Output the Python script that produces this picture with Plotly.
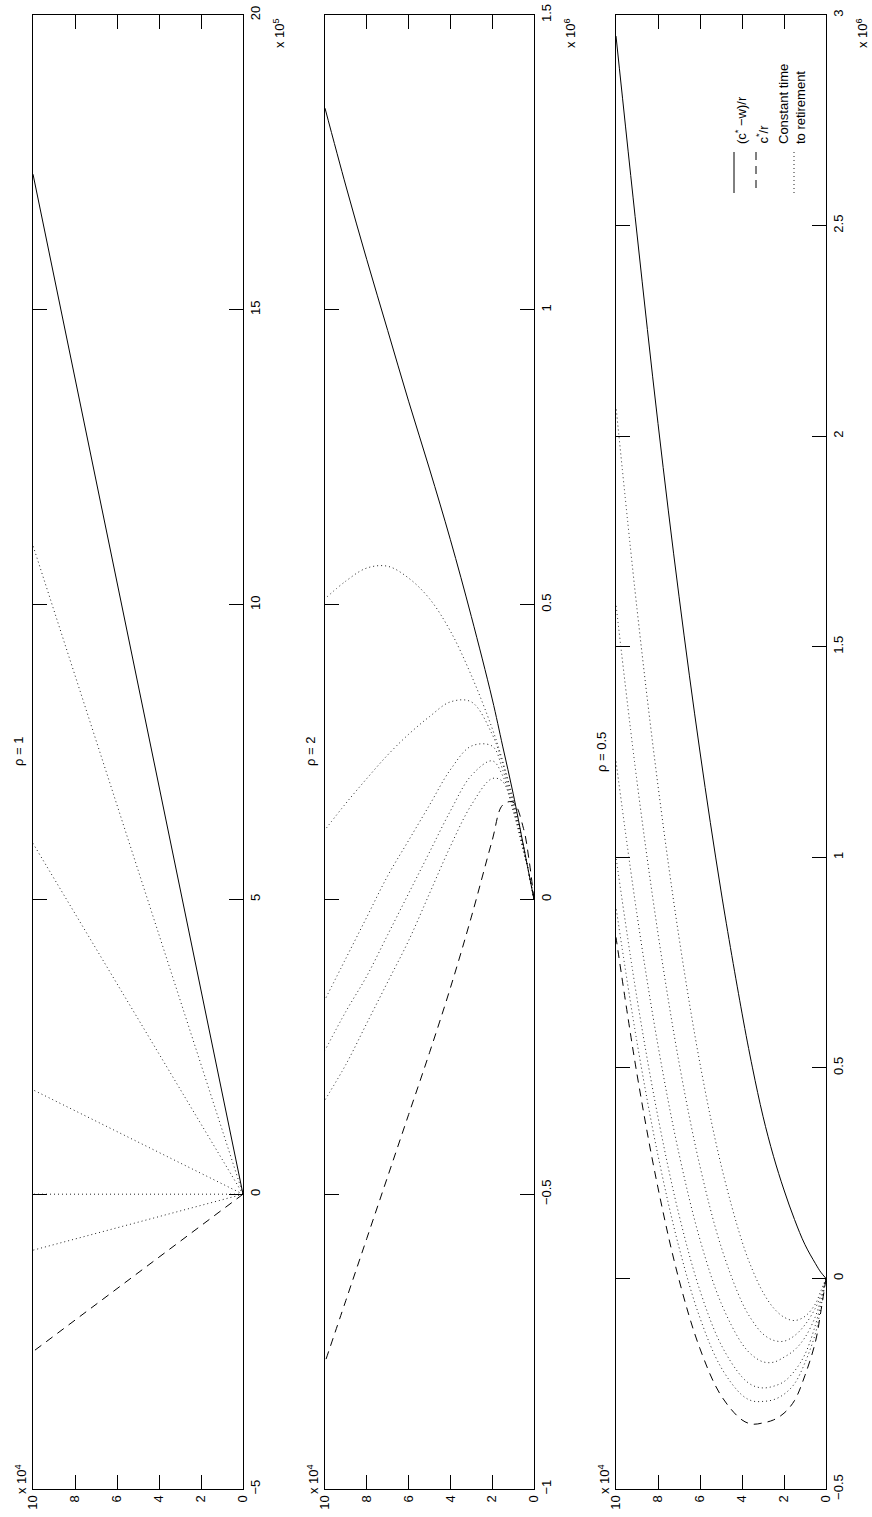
import plotly.graph_objects as go

# ---------------- data (c in units of 1e4; values in axis units) ----------------
# Panel rho = 1 (values x 1e5) -- straight lines through origin
r1_c = [0, 10]
r1_solid = [0, 17.3]
r1_dashed = [0, -2.67]
r1_dotted = [
    [0, -0.95],
    [0, 0.0],
    [0, 1.77],
    [0, 5.95],
    [0, 11.0],
]

# Panel rho = 2 (values x 1e6)
r2_c = [0, 0.25, 0.5, 1, 1.5, 2, 3, 4, 5, 6, 7, 8, 9, 10]
r2_solid = [0, 0.045, 0.09, 0.18, 0.26, 0.34, 0.48, 0.61, 0.73, 0.845, 0.965, 1.085, 1.21, 1.342]
r2_dashed = [0, 0.07, 0.12, 0.165, 0.16, 0.10, -0.03, -0.15, -0.26, -0.365, -0.47, -0.575, -0.68, -0.785]
r2_dotted = [
    [0, 0.045, 0.09, 0.17, 0.235, 0.29, 0.38, 0.455, 0.51, 0.545, 0.565, 0.562, 0.54, 0.51],
    [0, 0.045, 0.09, 0.165, 0.23, 0.28, 0.335, 0.335, 0.31, 0.28, 0.245, 0.205, 0.163, 0.118],
    [0, 0.045, 0.085, 0.16, 0.22, 0.26, 0.26, 0.22, 0.16, 0.10, 0.04, -0.03, -0.10, -0.17],
    [0, 0.045, 0.085, 0.155, 0.21, 0.235, 0.21, 0.15, 0.08, 0.01, -0.06, -0.13, -0.19, -0.256],
    [0, 0.045, 0.08, 0.15, 0.20, 0.205, 0.16, 0.09, 0.01, -0.07, -0.14, -0.21, -0.28, -0.34],
]

# Panel rho = 0.5 (values x 1e6)
r3_c = [0, 0.25, 0.5, 1, 1.5, 2, 2.5, 3, 3.5, 4, 5, 6, 7, 8, 9, 10]
r3_solid = [0, 0.015, 0.035, 0.08, 0.14, 0.21, 0.29, 0.385, 0.50, 0.63, 0.92, 1.25, 1.62, 2.03, 2.48, 2.95]
r3_dashed = [0, -0.08, -0.15, -0.23, -0.29, -0.32, -0.336, -0.343, -0.346, -0.336, -0.278, -0.167,
             -0.003, 0.215, 0.485, 0.81]
r3_dotted = [
    [0, -0.03, -0.06, -0.09, -0.10, -0.092, -0.07, -0.033, 0.02, 0.088, 0.27, 0.51, 0.81, 1.17, 1.59, 2.07],
    [0, -0.04, -0.07, -0.11, -0.136, -0.149, -0.147, -0.132, -0.101, -0.057, 0.076, 0.266, 0.513, 0.819, 1.18, 1.60],
    [0, -0.05, -0.09, -0.14, -0.17, -0.187, -0.199, -0.198, -0.183, -0.155, -0.058, 0.092, 0.296, 0.553, 0.864, 1.228],
    [0, -0.06, -0.11, -0.18, -0.22, -0.245, -0.256, -0.26, -0.254, -0.234, -0.157, -0.029, 0.151, 0.383, 0.665, 1.0],
    [0, -0.07, -0.13, -0.20, -0.25, -0.275, -0.288, -0.292, -0.291, -0.277, -0.211, -0.094, 0.074, 0.292, 0.561, 0.881],
]

titles = ["ρ = 1", "ρ = 2", "ρ = 0.5"]
yranges = [[-5, 20], [-1, 1.5], [-0.5, 3]]
ytickvals = [[-5, 0, 5, 10, 15, 20], [-1, -0.5, 0, 0.5, 1, 1.5], [-0.5, 0, 0.5, 1, 1.5, 2, 2.5, 3]]
yticktext = [["−5", "0", "5", "10", "15", "20"],
             ["−1", "−0.5", "0", "0.5", "1", "1.5"],
             ["−0.5", "0", "0.5", "1", "1.5", "2", "2.5", "3"]]
xtickvals = [0, 2, 4, 6, 8, 10]
xticktext = ["0", "2", "4", "6", "8", "10"]
yexps = ["5", "6", "6"]

FONT = "Liberation Sans, Arial, sans-serif"
FS = 13
W, H = 872, 1517
panels_px = [(33, 243), (325, 534), (616, 826)]
top_px, bot_px = 15, 1489

fig = go.Figure()

panel_data = [
    (r1_c, r1_solid, r1_dashed, r1_dotted),
    (r2_c, r2_solid, r2_dashed, r2_dotted),
    (r3_c, r3_solid, r3_dashed, r3_dotted),
]

for i, (cc, sol, dsh, dots) in enumerate(panel_data):
    xa = "x" if i == 0 else f"x{i+1}"
    ya = "y" if i == 0 else f"y{i+1}"
    for d in dots:
        fig.add_trace(go.Scatter(x=cc, y=d, mode="lines", xaxis=xa, yaxis=ya,
                                 line=dict(color="#222", width=1, dash="1px,3px", shape="spline"),
                                 showlegend=False, hoverinfo="skip"))
    fig.add_trace(go.Scatter(x=cc, y=dsh, mode="lines", xaxis=xa, yaxis=ya,
                             line=dict(color="black", width=1, dash="8px,6px", shape="spline"),
                             showlegend=False, hoverinfo="skip"))
    fig.add_trace(go.Scatter(x=cc, y=sol, mode="lines", xaxis=xa, yaxis=ya,
                             line=dict(color="black", width=1, shape="spline"),
                             showlegend=False, hoverinfo="skip"))

layout = dict(width=W, height=H, margin=dict(l=0, r=0, t=0, b=0, autoexpand=False),
              paper_bgcolor="white", plot_bgcolor="white", showlegend=False,
              font=dict(family=FONT, size=FS, color="black"))
annotations = []
shapes = []
ydom = [1 - bot_px / H, 1 - top_px / H]
for i in range(3):
    sfx = "" if i == 0 else str(i + 1)
    x0, x1 = panels_px[i]
    layout["xaxis" + sfx] = dict(
        domain=[x0 / W, x1 / W], anchor="y" + sfx, range=[10, 0],
        tickvals=xtickvals, ticktext=xticktext, tickangle=-90,
        ticks="inside", ticklen=14, tickcolor="black", tickwidth=1,
        showline=True, linecolor="black", linewidth=1, mirror="ticks",
        showgrid=False, zeroline=False, automargin=False,
        tickfont=dict(size=FS, family=FONT))
    layout["yaxis" + sfx] = dict(
        domain=ydom, anchor="x" + sfx, side="right", range=yranges[i],
        tickvals=ytickvals[i], ticktext=yticktext[i], tickangle=-90,
        ticks="inside", ticklen=14, tickcolor="black", tickwidth=1,
        showline=True, linecolor="black", linewidth=1, mirror="ticks",
        showgrid=False, zeroline=False, automargin=False,
        tickfont=dict(size=FS, family=FONT))
    # title (rotated)
    annotations.append(dict(text=titles[i], textangle=-90, xref="paper", yref="paper",
                            x=(x0 - 15) / W, y=1 - 752 / H, showarrow=False,
                            xanchor="center", yanchor="middle",
                            font=dict(size=FS, family=FONT)))
    # exponent labels
    annotations.append(dict(text="x 10<sup>4</sup>", textangle=-90, xref="paper", yref="paper",
                            x=(x0 - 12) / W, y=1 - 1496 / H, showarrow=False,
                            xanchor="center", yanchor="bottom",
                            font=dict(size=FS, family=FONT)))
    annotations.append(dict(text="x 10<sup>%s</sup>" % yexps[i], textangle=-90, xref="paper", yref="paper",
                            x=(x1 + 36) / W, y=1 - 16 / H, showarrow=False,
                            xanchor="center", yanchor="top",
                            font=dict(size=FS, family=FONT)))

# legend for the third panel (rotated, drawn manually)
leg = [("(c<sup>*</sup> −w)/r", 741), ("c<sup>*</sup>/r", 762),
       ("Constant time<br>to retirement", 792)]
for txt, xp in leg:
    annotations.append(dict(text=txt, textangle=-90, xref="paper", yref="paper",
                            x=xp / W, y=1 - 146 / H, yanchor="bottom", xanchor="center",
                            showarrow=False, align="left",
                            font=dict(size=FS, family=FONT)))
shapes.append(dict(type="line", xref="paper", yref="paper", x0=734 / W, x1=734 / W,
                   y0=1 - 152 / H, y1=1 - 193 / H, line=dict(color="black", width=1)))
shapes.append(dict(type="line", xref="paper", yref="paper", x0=756 / W, x1=756 / W,
                   y0=1 - 152 / H, y1=1 - 193 / H, line=dict(color="black", width=1, dash="8px,6px")))
shapes.append(dict(type="line", xref="paper", yref="paper", x0=794 / W, x1=794 / W,
                   y0=1 - 152 / H, y1=1 - 193 / H, line=dict(color="#222", width=1, dash="1px,3px")))

layout["annotations"] = annotations
layout["shapes"] = shapes
fig.update_layout(**layout)
fig.write_html("out.html")
